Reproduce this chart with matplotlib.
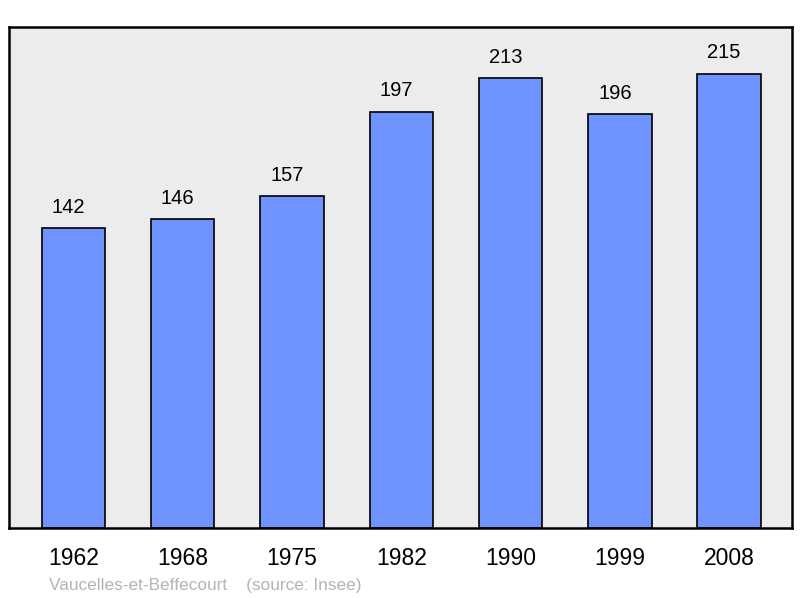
import matplotlib.pyplot as plt

# Population data
years = ["1962", "1968", "1975", "1982", "1990", "1999", "2008"]
population = [142, 146, 157, 197, 213, 196, 215]

plt.rcParams['font.family'] = ['Liberation Sans', 'DejaVu Sans']

fig = plt.figure(figsize=(8, 5.98), dpi=100)
ax = fig.add_axes([0.01125, 0.1171, 0.97875, 0.8377])
ax.set_facecolor("#ececec")

x = range(len(years))
bars = ax.bar(x, population, width=0.58, color="#7094ff", edgecolor="black", linewidth=1.2, zorder=2)

# Value labels above each bar
for xi, val in zip(x, population):
    ax.annotate(str(val), (xi, val), xytext=(-3.6, 8), textcoords="offset points",
                ha="center", va="bottom", fontsize=14.5)

ax.set_xlim(-0.59, 6.575)
ax.set_ylim(0, 237)
ax.set_xticks(list(x))
ax.set_xticklabels(years, fontsize=16.5)
ax.tick_params(axis="x", length=0, pad=14)
ax.set_yticks([])
for s in ax.spines.values():
    s.set_linewidth(1.8)

fig.text(0.061, 0.014, "Vaucelles-et-Beffecourt    (source: Insee)", color="#b4b4b4", fontsize=12.4)

plt.savefig("out.png", dpi=100)
plt.close()
